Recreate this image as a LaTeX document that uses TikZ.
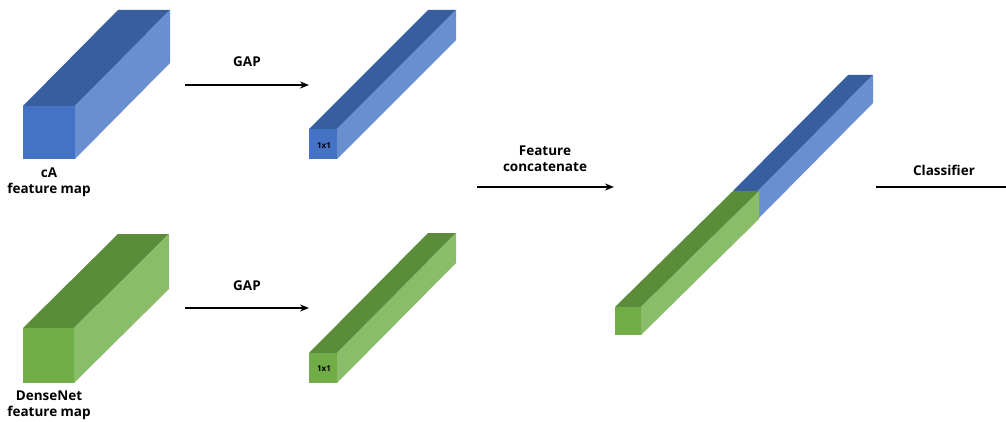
\documentclass[tikz,border=0pt]{standalone}
\usepackage{fontspec}
\setmainfont{Open Sans}
\usetikzlibrary{arrows.meta,calc}
\definecolor{blueF}{HTML}{4472C4}
\definecolor{blueT}{HTML}{375E9F}
\definecolor{blueS}{HTML}{6A8FD0}
\definecolor{greenF}{HTML}{70AD47}
\definecolor{greenT}{HTML}{5B8C39}
\definecolor{greenS}{HTML}{8ABD6A}
% cuboid: x, y (front top-left), w, h, dx, dy, colour prefix
\newcommand\mycuboid[7]{%
  \fill[#7T] (#1,#2) -- ++(#5,-#6) -- ++(#3,0) -- ($(#1,#2)+(#3,0)$) -- cycle;
  \fill[#7S] ($(#1,#2)+(#3,0)$) -- ++(#5,-#6) -- ++(0,#4) -- ($(#1,#2)+(#3,#4)$) -- cycle;
  \fill[#7F] (#1,#2) rectangle ++(#3,#4);
}
\tikzset{
  lbl/.style={font=\bfseries\fontsize{13.5}{16}\selectfont, align=center, inner sep=0pt},
  small/.style={font=\bfseries\fontsize{8}{9}\selectfont, inner sep=0pt},
  arr/.style={line width=2pt, -{Stealth[length=9pt,width=7pt]}},
  plain/.style={line width=2pt}
}
\begin{document}
\begin{tikzpicture}[x=1pt,y=-1pt]
\useasboundingbox (0,0) rectangle (1006,422);
% big cuboids
\mycuboid{23}{106}{52}{53}{95}{96}{blue}
\mycuboid{23}{328}{51}{55}{95}{94}{green}
% GAP cuboids
\mycuboid{309}{129}{28}{30}{119}{119}{blue}
\mycuboid{309}{353}{28}{30}{119}{120}{green}
% concatenated
\mycuboid{733}{191}{25}{28}{115}{116}{blue}
\mycuboid{615}{307}{26}{28}{118}{116}{green}
% labels
\node[lbl] (ca) at (49,182) {cA\\feature map};
\node[lbl] (dn) at (49,405) {DenseNet\\feature map};
\node[small] (s1) at (324,146) {1x1};
\node[small] (s2) at (324,369) {1x1};
\node[lbl] (g1) at (247,62) {GAP};
\node[lbl] (g2) at (247,286) {GAP};
\node[lbl] (fc) at (545,159) {Feature\\concatenate};
\node[lbl] (cl) at (944,170) {Classifier};
% connectors
\coordinate (a1s) at (185,85); \coordinate (a1e) at (309,85);
\coordinate (a2s) at (185,308); \coordinate (a2e) at (309,308);
\coordinate (a3s) at (477,187); \coordinate (a3e) at (614,187);
\coordinate (a4s) at (876,187); \coordinate (a4e) at (1006,187);
\draw[arr] (a1s) -- (a1e);
\draw[arr] (a2s) -- (a2e);
\draw[arr] (a3s) -- (a3e);
\draw[plain] (a4s) -- (a4e);
\end{tikzpicture}
\end{document}
